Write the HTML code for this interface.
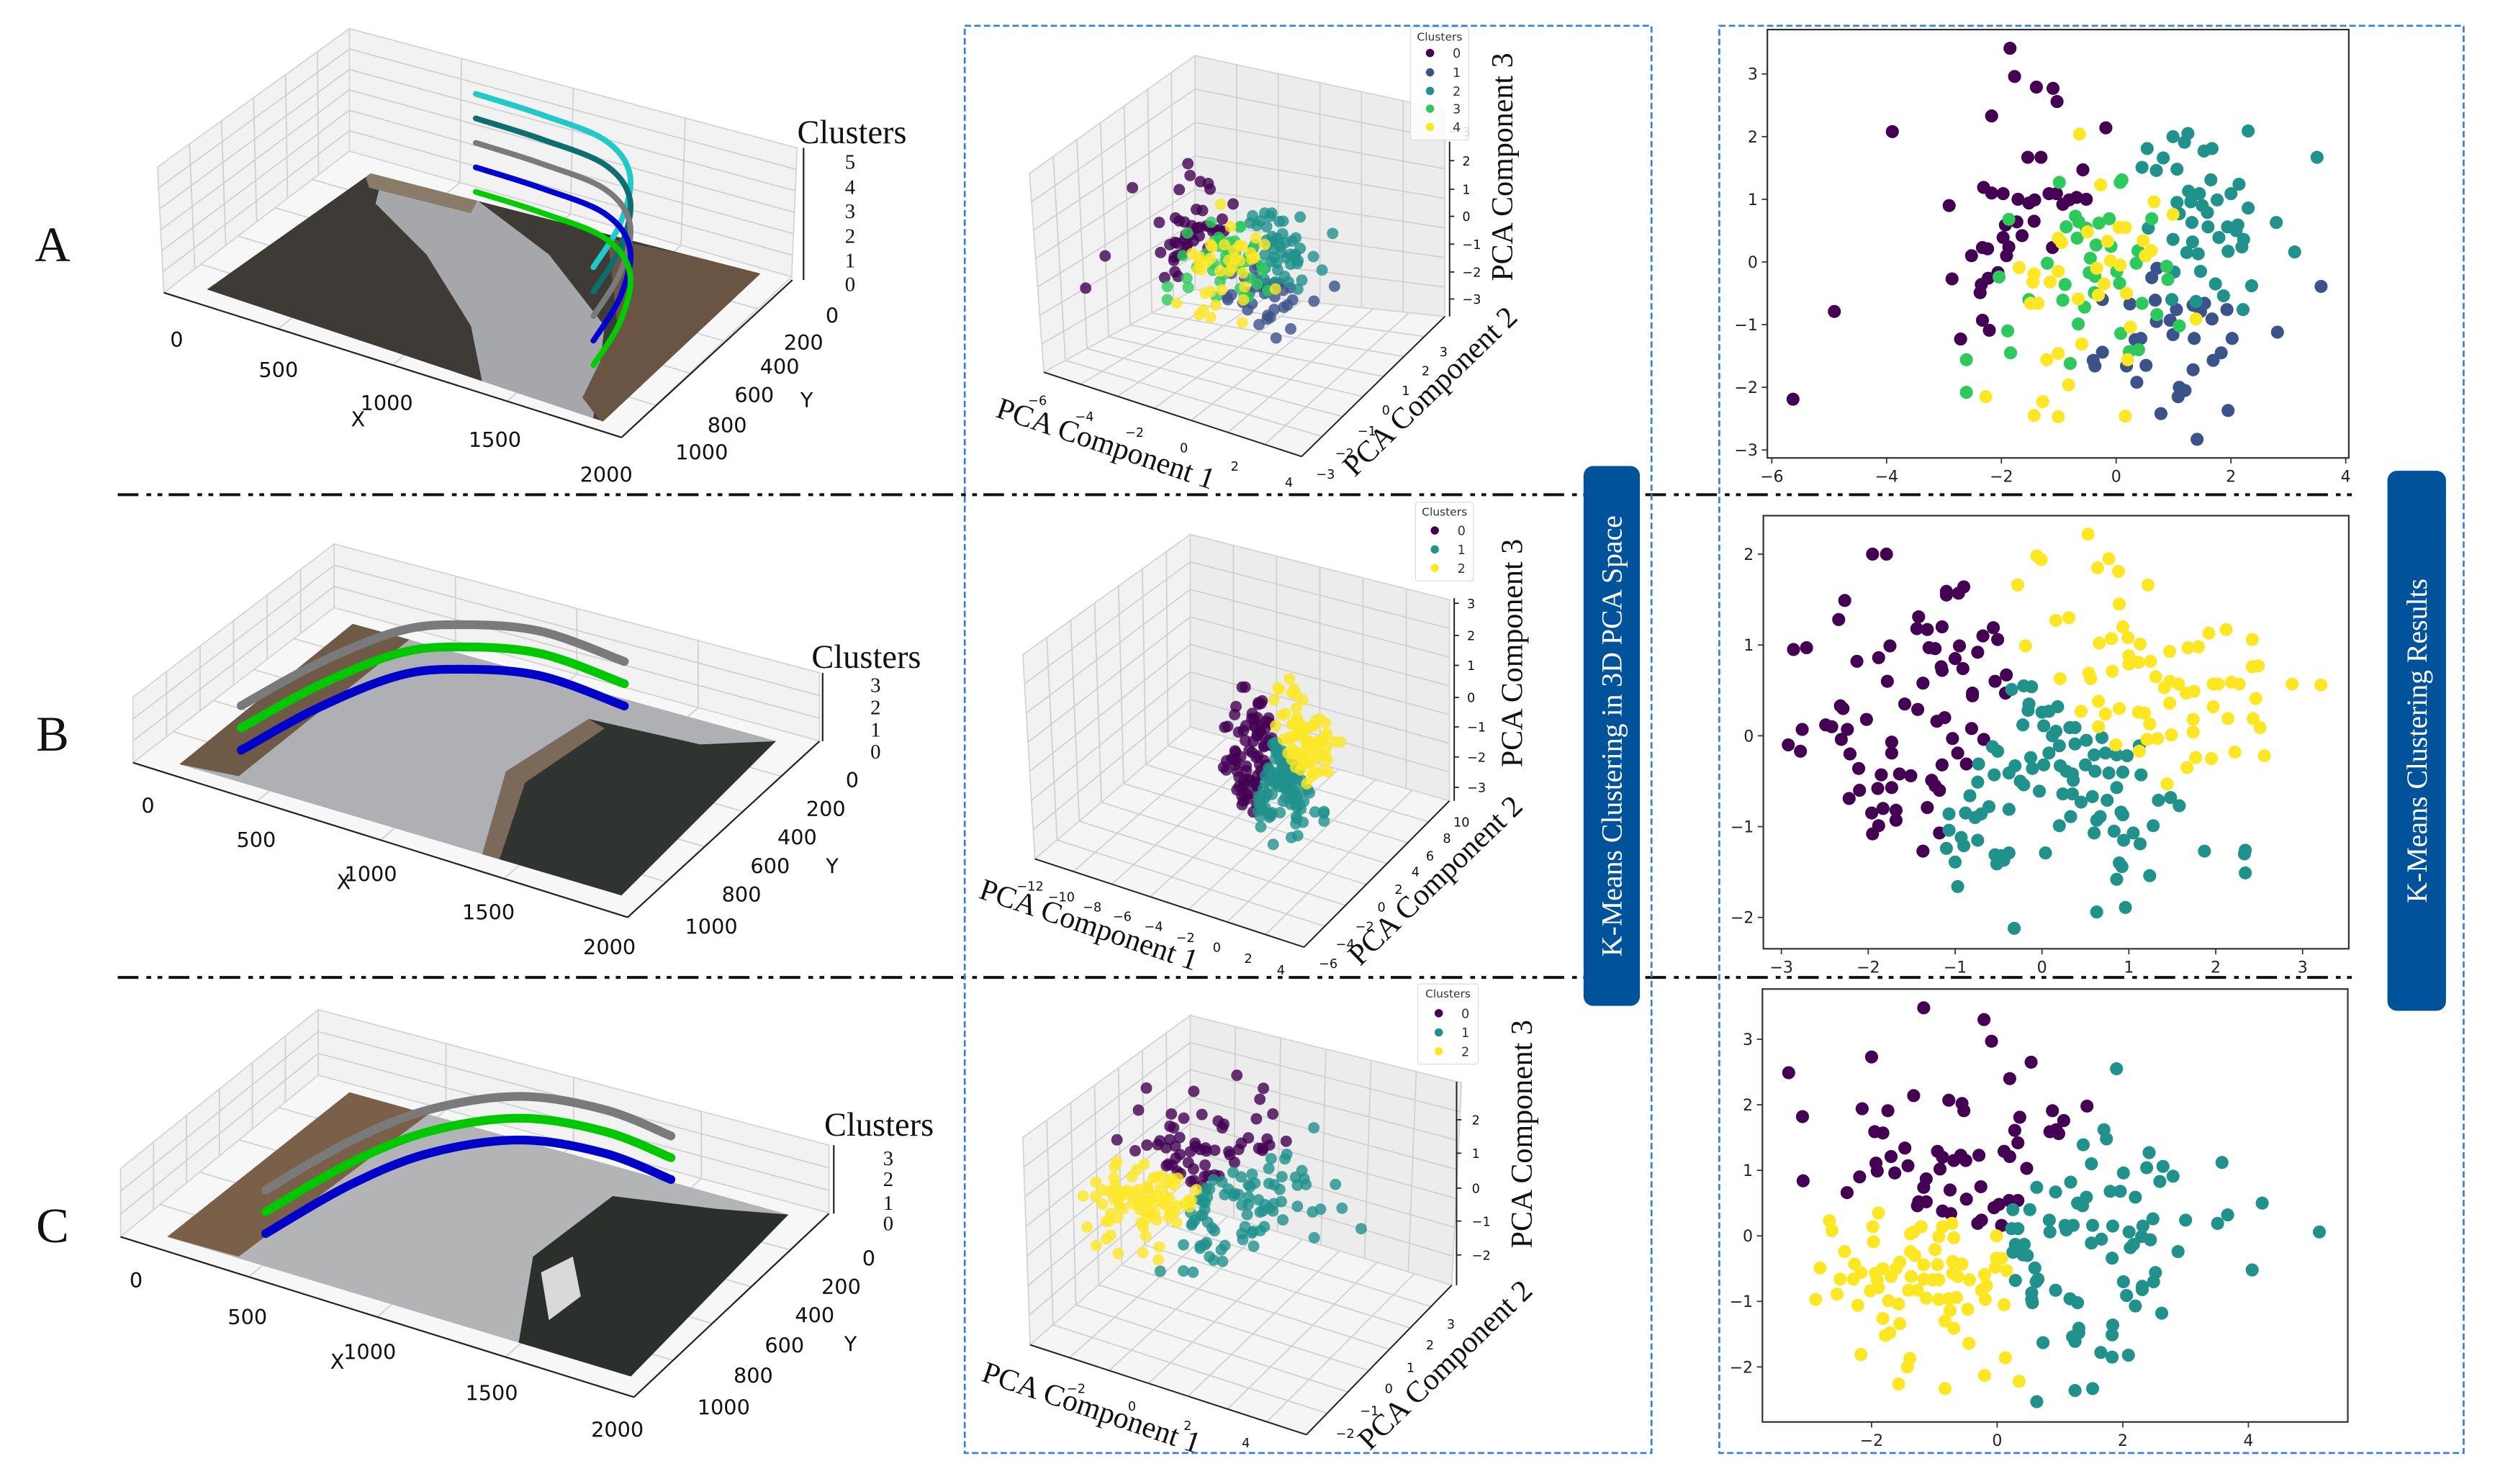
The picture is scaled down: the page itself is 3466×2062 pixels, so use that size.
<!DOCTYPE html>
<html><head><meta charset="utf-8"><title>K-Means Clustering</title>
<style>
html,body{margin:0;padding:0;background:#fff;}
svg{display:block;}
text{font-family:"DejaVu Sans","Liberation Sans",sans-serif;}
.serif{font-family:"Liberation Serif","DejaVu Serif",serif;}
</style></head>
<body>
<svg id="fig" xmlns="http://www.w3.org/2000/svg" width="3466" height="2062" viewBox="0 0 1568 933" preserveAspectRatio="none">
<rect x="0" y="0" width="1568" height="933" fill="#fff"/>
<defs>
<clipPath id="clipA"><polygon points="130,182 233,109 478,172 379,265"/></clipPath>
<clipPath id="clipB"><polygon points="112.7,480.5 221.6,392.2 487.8,465.8 390.6,563"/></clipPath>
<clipPath id="clipC"><polygon points="105,777.6 219.6,686.7 495.6,763.6 396.5,865.4"/></clipPath>
</defs>
<g id="left"></g>
<g id="mid"></g>
<g id="right"></g>
<g id="deco">
<line x1="74" y1="311" x2="1481" y2="311" stroke="#111" stroke-width="1.8" stroke-dasharray="13 5 3 4 3 4"/>
<line x1="74" y1="614.5" x2="1481" y2="614.5" stroke="#111" stroke-width="1.8" stroke-dasharray="13 5 3 4 3 4"/>
<rect x="606.3" y="16.2" width="431.6" height="897.3" fill="none" stroke="#2f7fe0" stroke-width="1.2" stroke-dasharray="4 2"/>
<rect x="1080.5" y="16.2" width="467.8" height="897.3" fill="none" stroke="#2f7fe0" stroke-width="1.2" stroke-dasharray="4 2"/>
<rect x="995.2" y="293" width="35.4" height="339.4" rx="6" fill="#00529b"/>
<text class="serif" x="0" y="0" transform="translate(1019,462.7) rotate(-90)" text-anchor="middle" font-size="18" fill="#fff">K-Means Clustering in 3D PCA Space</text>
<rect x="1500.4" y="296" width="36.8" height="339.5" rx="6" fill="#00529b"/>
<text class="serif" x="0" y="0" transform="translate(1525,465.7) rotate(-90)" text-anchor="middle" font-size="18" fill="#fff">K-Means Clustering Results</text>
</g>
</svg>
<script>
// ---------- DATA: right 2D scatter A (5 clusters) ----------
const aX0=[-1.85,-1.77,-1.39,-1.10,-1.03,-2.17,-3.90,-0.18,-1.54,-1.31,-0.58,-2.31,-2.17,-1.97,-2.91,-1.71,-1.52,-1.42,-1.17,-1.04,-0.93,-0.82,-0.69,-0.52,-1.93,-1.73,-1.43,-1.97,-1.64,-1.87,-1.91,-2.33,-2.24,-2.52,-1.11,-2.86,-2.06,-2.23,-2.35,-2.37,-4.91,-5.63,-2.33,-2.21,-2.71];
const aY0=[3.41,2.96,2.79,2.77,2.56,2.33,2.08,2.14,1.67,1.67,1.47,1.19,1.10,1.09,0.90,1.0,0.94,0.99,1.09,1.09,0.92,0.99,1.03,1.0,0.59,0.64,0.65,0.39,0.42,0.24,0.10,0.23,0.21,0.10,0.23,-0.27,-0.17,-0.26,-0.36,-0.49,-0.79,-2.19,-0.93,-1.09,-1.23];
const aX1=[3.57,0.71,0.62,-0.24,0.24,0.68,1.05,1.93,1.54,1.34,1.47,1.67,0.70,0.94,2.81,0.99,1.36,2.02,0.43,0.33,-0.24,-0.40,-0.37,0.18,0.52,1.34,1.69,1.83,0.36,1.10,1.20,1.08,1.95,0.78,1.41];
const aY1=[-0.39,-0.10,-0.25,-0.60,-0.67,-0.61,-0.76,-0.76,-0.66,-0.69,-0.79,-0.91,-0.95,-0.93,-1.12,-1.16,-1.22,-1.22,-1.22,-1.24,-1.44,-1.57,-1.66,-1.66,-1.65,-1.72,-1.57,-1.45,-1.92,-2.0,-2.05,-2.15,-2.37,-2.42,-2.83];
const aX2=[0.99,1.25,1.19,2.30,0.54,1.53,1.67,0.82,0.45,0.70,1.06,1.65,2.14,3.50,1.26,1.45,2.00,1.76,1.06,1.30,1.50,1.59,2.30,1.10,1.32,2.79,0.56,1.60,1.79,1.94,2.12,2.09,0.99,1.33,2.22,2.19,1.23,1.43,1.95,3.11,1.47,1.73,2.36,1.01,1.87,0.97,1.39,2.21];
const aY2=[2.0,2.05,1.91,2.09,1.81,1.77,1.81,1.66,1.51,1.46,1.48,1.31,1.24,1.67,1.13,1.09,1.09,0.99,0.95,0.96,0.90,0.79,0.86,0.77,0.63,0.63,0.54,0.56,0.39,0.56,0.59,0.50,0.36,0.32,0.36,0.24,0.15,0.13,0.17,0.16,-0.15,-0.35,-0.38,-0.16,-0.54,-0.60,-0.63,-0.76];
const aX3=[-0.99,0.10,0.07,-1.87,-0.71,-0.65,-0.87,-0.52,-0.30,-0.12,-0.68,-0.35,-0.09,0.62,0.38,-1.20,-0.45,0.35,0.88,-0.47,-0.37,0.01,0.06,0.90,-0.89,-2.04,-0.38,-0.93,-1.52,-0.55,0.45,0.71,-0.66,1.10,-1.89,0.08,-1.84,-2.61,-0.80,0.23,0.39,-2.61];
const aY3=[1.27,1.31,1.27,0.68,0.73,0.64,0.56,0.54,0.62,0.69,0.38,0.27,0.25,0.69,0.18,-0.02,0.06,-0.02,-0.07,-0.17,-0.23,-0.15,-0.34,-0.28,-0.36,-0.24,-0.49,-0.61,-0.60,-0.72,-0.66,-0.84,-0.99,-1.02,-1.10,-1.14,-1.45,-1.56,-1.62,-1.43,-1.40,-2.08];
const aX4=[-0.64,-0.27,0.66,0.99,0.05,0.16,-0.50,-1.01,-0.95,-0.15,0.47,0.61,0.51,-1.69,-1.43,-1.45,-1.15,-1.01,-0.34,-0.10,0.07,-0.21,-0.66,-0.31,0.18,-1.49,-1.36,1.39,0.25,-0.60,-1.01,-1.21,0.20,-0.83,-2.27,-1.28,-1.43,-1.01,0.16];
const aY4=[2.04,1.23,0.96,0.76,0.55,0.55,0.48,0.38,0.31,0.33,0.34,0.18,0.10,-0.09,-0.19,-0.32,-0.32,-0.15,-0.10,0.02,-0.05,-0.35,-0.59,-0.53,-0.50,-0.66,-0.66,-0.91,-1.04,-1.31,-1.46,-1.56,-1.56,-1.96,-2.15,-2.23,-2.45,-2.47,-2.46];
// ---------- DATA: right 2D scatter B (3 clusters) ----------
const bX0=[-1.95,-1.79,-2.27,-2.34,-2.86,-2.71,-2.13,-1.88,-1.75,-1.78,-1.42,-1.44,-1.32,-1.15,-1.30,-1.23,-1.10,-1.10,-0.96,-0.90,-0.95,-1.00,-0.91,-0.74,-1.16,-1.15,-1.37,-0.68,-0.56,-0.51,-0.41,-0.54,-0.42,-0.80,-0.80,-2.32,-2.29,-1.58,-1.43,-2.02,-2.49,-2.42,-2.76,-2.24,-1.21,-1.12,-0.81,-2.92,-2.78,-2.31,-1.73,-1.73,-1.03,-0.67,-2.21,-2.11,-0.97,-0.87,-1.15,-1.85,-1.64,-1.51,-1.27,-1.23,-1.18,-2.22,-2.10,-1.89,-1.73,-1.32,-1.83,-1.68,-1.96,-1.68,-1.88,-1.95,-1.18,-1.37];
const bY0=[2.0,2.0,1.49,1.28,0.95,0.97,0.82,0.86,0.99,0.60,1.31,1.18,1.17,1.20,0.97,0.96,1.59,1.55,1.57,1.64,0.99,0.85,0.74,0.92,0.76,0.72,0.58,1.10,1.19,1.06,0.67,0.60,0.47,0.47,0.44,0.33,0.30,0.35,0.29,0.18,0.12,0.10,0.07,0.07,0.16,0.20,0.08,-0.10,-0.17,-0.04,-0.07,-0.19,-0.03,-0.04,-0.20,-0.36,-0.19,-0.31,-0.32,-0.43,-0.42,-0.44,-0.49,-0.55,-0.60,-0.69,-0.60,-0.58,-0.57,-0.79,-0.80,-0.82,-0.85,-0.93,-0.99,-1.08,-1.07,-1.27];
const bX1=[-0.35,-0.21,-0.12,-0.15,-0.16,0.0,0.08,0.18,-0.22,0.02,0.32,0.38,0.16,0.12,0.69,0.51,0.38,0.20,-0.57,-0.51,-0.13,0.08,0.60,0.73,0.86,0.98,1.12,-0.73,-0.31,0.02,-0.11,0.21,0.50,0.28,0.35,-0.38,-0.55,0.61,0.77,0.93,1.14,0.36,-0.25,-0.74,-0.21,0.86,-0.03,0.24,0.35,0.58,0.45,0.75,1.34,1.48,1.58,-0.83,-0.61,-0.38,-0.88,-1.07,-0.70,-0.77,0.91,0.93,0.33,0.67,0.63,0.20,1.28,-1.07,0.60,0.83,1.05,0.94,1.13,-0.93,-0.90,-0.74,-1.10,-0.54,-0.47,-0.38,-0.44,-0.52,0.04,-1.0,1.87,2.34,2.33,2.34,0.89,0.92,1.24,0.86,-0.97,0.63,0.96,-0.32];
const bY1=[0.51,0.55,0.54,0.35,0.28,0.26,0.27,0.32,0.12,0.11,0.09,0.09,0.05,0.0,-0.02,-0.05,-0.09,-0.11,-0.12,-0.17,-0.24,-0.19,-0.21,-0.19,-0.21,-0.22,-0.11,-0.31,-0.33,-0.32,-0.36,-0.33,-0.32,-0.39,-0.42,-0.41,-0.43,-0.39,-0.41,-0.40,-0.43,-0.49,-0.50,-0.51,-0.54,-0.57,-0.61,-0.64,-0.64,-0.67,-0.73,-0.71,-0.71,-0.68,-0.77,-0.66,-0.78,-0.81,-0.85,-0.86,-0.86,-0.90,-0.84,-0.87,-0.89,-0.89,-0.93,-0.99,-0.99,-1.04,-1.07,-1.05,-1.07,-1.15,-1.19,-1.12,-1.21,-1.15,-1.24,-1.31,-1.32,-1.29,-1.37,-1.41,-1.29,-1.39,-1.27,-1.26,-1.30,-1.51,-1.40,-1.44,-1.54,-1.58,-1.66,-1.94,-1.89,-2.12];
const bX2=[0.53,-0.06,-0.01,0.77,0.64,0.88,-0.28,1.22,0.89,0.16,0.31,0.93,0.99,-0.19,0.66,0.80,1.13,1.92,2.12,2.42,1.47,1.68,1.80,1.00,1.00,1.11,1.25,2.42,2.49,0.21,0.54,0.56,0.81,1.31,1.47,1.57,1.41,1.66,1.75,1.97,2.03,2.18,2.27,2.88,3.21,2.46,0.45,0.65,0.73,0.89,1.11,1.18,1.47,1.97,1.24,0.65,1.74,2.14,2.43,2.51,1.74,1.49,0.85,1.21,1.33,1.12,1.77,1.95,2.22,2.56,1.67,1.44];
const bY2=[2.22,1.98,1.94,1.95,1.85,1.81,1.66,1.66,1.45,1.27,1.30,1.20,1.08,0.99,1.02,1.07,1.01,1.13,1.17,1.06,0.93,0.97,0.98,0.88,0.79,0.81,0.82,0.76,0.77,0.63,0.69,0.63,0.71,0.65,0.60,0.57,0.53,0.47,0.49,0.57,0.57,0.59,0.57,0.57,0.56,0.41,0.27,0.38,0.24,0.30,0.26,0.25,0.36,0.32,0.13,0.10,0.18,0.19,0.19,0.09,0.04,0.01,-0.10,-0.04,-0.03,-0.17,-0.24,-0.25,-0.18,-0.22,-0.35,-0.53];
// ---------- DATA: right 2D scatter C (3 clusters) ----------
const cX0=[-1.17,-0.21,-0.09,-2.0,-3.32,0.54,0.20,-1.33,-3.10,-2.15,-1.74,-0.77,-0.56,-0.53,1.43,0.88,0.36,1.06,-1.95,-1.82,0.28,0.84,0.94,0.98,0.33,-1.47,-1.69,-0.95,-0.87,-0.58,-0.69,-0.50,-0.29,0.11,0.20,-1.93,-1.42,-1.91,-1.63,-0.91,0.47,-2.19,-1.13,-3.09,-1.17,-0.75,-0.26,-2.39,-0.49,-1.25,-1.13,-1.27,0.19,0.33,0.03,-0.05,-0.87,-0.74,-0.25,-0.31,0.07];
const cY0=[3.48,3.30,2.97,2.73,2.49,2.65,2.40,2.14,1.82,1.94,1.91,2.07,2.02,1.91,1.98,1.91,1.81,1.76,1.59,1.57,1.61,1.59,1.62,1.56,1.42,1.34,1.21,1.29,1.20,1.23,1.15,1.15,1.23,1.29,1.21,1.11,1.07,0.99,0.96,1.02,1.03,0.90,0.87,0.84,0.74,0.70,0.75,0.66,0.56,0.52,0.52,0.46,0.54,0.54,0.48,0.43,0.38,0.34,0.24,0.19,0.16];
const cX1=[1.90,1.70,1.74,1.37,2.42,3.58,1.50,2.64,2.38,2.01,2.80,2.59,1.17,0.63,0.93,1.80,1.96,2.20,1.42,1.28,1.36,4.22,0.25,0.52,3.67,2.48,3.0,3.51,0.83,0.84,1.08,1.21,1.10,1.52,1.84,2.32,0.23,0.33,2.10,5.13,2.30,2.44,1.66,1.50,0.29,0.43,2.17,2.12,0.25,0.41,0.48,2.88,1.83,0.60,2.52,4.06,0.65,0.62,0.29,2.01,2.49,2.31,2.31,0.93,0.55,0.55,0.56,1.16,1.28,2.06,2.20,2.62,1.84,1.83,1.30,1.30,1.20,1.24,0.73,1.65,1.83,2.09,1.24,1.52,0.63];
const cY1=[2.55,1.62,1.48,1.39,1.27,1.12,1.10,1.06,1.04,0.96,0.91,0.83,0.82,0.74,0.67,0.68,0.68,0.59,0.59,0.50,0.46,0.50,0.40,0.40,0.32,0.26,0.24,0.19,0.24,0.06,0.16,0.16,0.09,0.16,0.15,0.15,0.11,0.11,0.06,0.06,-0.01,-0.06,-0.05,-0.11,-0.13,-0.13,-0.13,-0.18,-0.25,-0.29,-0.30,-0.24,-0.34,-0.49,-0.56,-0.52,-0.66,-0.70,-0.68,-0.70,-0.70,-0.77,-0.82,-0.83,-0.87,-0.97,-1.02,-0.96,-1.02,-0.91,-1.07,-1.18,-1.36,-1.51,-1.41,-1.48,-1.54,-1.61,-1.63,-1.78,-1.85,-1.82,-2.36,-2.33,-2.53];
const cX2=[-1.89,-2.67,-2.63,-1.98,-1.97,-1.21,-1.38,-1.33,-0.87,-0.72,-0.93,-0.69,-0.01,-2.43,-1.38,-1.31,-0.99,-2.82,-2.27,-2.17,-1.94,-1.82,-1.55,-1.61,-1.17,-0.95,-0.71,-0.56,-0.01,0.07,-0.03,0.15,-2.50,-2.29,-1.91,-1.69,-1.37,-1.17,-1.03,-0.93,-0.71,-0.63,-0.44,-0.20,-0.17,-1.89,-2.02,-1.41,-1.27,-0.25,-2.89,-2.55,-2.22,-1.73,-1.57,-1.13,-0.93,-0.77,-0.65,-0.19,0.11,-0.75,-0.47,-1.82,-0.83,-1.55,-0.69,-1.78,-1.71,-0.45,-2.17,0.13,-1.39,-1.43,-0.20,0.35,-1.57,-0.83];
const cY2=[0.35,0.23,0.08,0.14,-0.09,0.14,0.03,0.06,0.14,0.19,-0.01,-0.03,0.0,-0.24,-0.24,-0.30,-0.21,-0.49,-0.43,-0.56,-0.57,-0.50,-0.40,-0.50,-0.44,-0.44,-0.39,-0.43,-0.34,-0.34,-0.48,-0.53,-0.66,-0.66,-0.68,-0.62,-0.62,-0.66,-0.67,-0.67,-0.57,-0.62,-0.67,-0.59,-0.76,-0.79,-0.84,-0.83,-0.83,-0.83,-0.97,-0.89,-1.06,-0.99,-1.04,-0.95,-0.97,-0.96,-0.94,-0.97,-1.05,-1.14,-1.12,-1.26,-1.30,-1.34,-1.41,-1.52,-1.48,-1.64,-1.81,-1.86,-1.87,-2.0,-2.13,-2.22,-2.26,-2.33];
// tick labels
const aXTicks=[-6,-4,-2,0,2,4];
const aYTicks=[-3,-2,-1,0,1,2,3];
const bXTicks=[-3,-2,-1,0,1,2,3];
const bYTicks=[-2,-1,0,1,2];
const cXTicks=[-2,0,2,4];
const cYTicks=[-2,-1,0,1,2,3];
// left 3D cluster tracks (image X, image Y) and cluster levels
const trackAX=[698,1002,1321,1556,1731,1834];
const trackAY=[151,162,200,343,602,871];
const levelsA=[5,4,3,2,1];
const trackBX=[367,434,550,715,985,1358];
const trackBY=[905,603,347,233,160,194];
const levelsB=[3,2,1];
const trackCX=[494,567,687,905,1203,1493];
const trackCY=[904,572,324,150,105,144];
const levelsC=[3,2,1];

const NS='http://www.w3.org/2000/svg';
function mk(tag,attrs,parent){const e=document.createElementNS(NS,tag);for(const k in attrs)e.setAttribute(k,attrs[k]);parent.appendChild(e);return e;}
function fmt(v){return v<0?'\u2212'+Math.abs(v):String(v);}
const V5=['#440154','#3b528b','#21918c','#2ec95c','#fde725'];
const V3=['#440154','#21918c','#fde725'];
const R=document.getElementById('right'), M=document.getElementById('mid'), L=document.getElementById('left');

// ================= RIGHT 2D SCATTERS =================
function panel2D(name,box,ax,xt,yt,xsets,ysets,cols){
  const g=mk('g',{},R);
  
  
  const sx=v=>ax.x0+(v-ax.xo)*ax.kx, sy=v=>ax.y0+(ax.yo-v)*ax.ky;
  const fr=mk('rect',{x:box[0],y:box[1],width:box[2]-box[0],height:box[3]-box[1],fill:'#fff',stroke:'#333','stroke-width':1},g);
  
  
  xt.forEach(v=>{const x=sx(v);
    const t=mk('line',{x1:x,y1:box[3],x2:x,y2:box[3]+3.5,stroke:'#333','stroke-width':0.8},g);
    
    
    const l=mk('text',{x:x,y:box[3]+15,'text-anchor':'middle','font-size':10,fill:'#222'},g);l.textContent=fmt(v);
    
    });
  yt.forEach(v=>{const y=sy(v);
    const t=mk('line',{x1:box[0]-3.5,y1:y,x2:box[0],y2:y,stroke:'#333','stroke-width':0.8},g);
    
    
    const l=mk('text',{x:box[0]-6,y:y+3.6,'text-anchor':'end','font-size':10,fill:'#222'},g);l.textContent=fmt(v);
    
    });
  xsets.forEach((xs,ci)=>{const ys=ysets[ci];const n=Math.min(xs.length,ys.length);
    for(let i=0;i<n;i++){const c=mk('circle',{cx:sx(xs[i]),cy:sy(ys[i]),r:4.1,fill:cols[ci]},g);
      
      }});
}
panel2D('scatter-a',[1110.7,18.6,1476.1,287.9],{x0:1113.5,kx:36.07,xo:-6,y0:46.5,ky:39.4,yo:3},aXTicks,aYTicks,[aX0,aX1,aX2,aX3,aX4],[aY0,aY1,aY2,aY3,aY4],V5);
panel2D('scatter-b',[1108.2,324.2,1476.1,596.5],{x0:1119.5,kx:54.6,xo:-3,y0:348.4,ky:57.1,yo:2},bXTicks,bYTicks,[bX0,bX1,bX2],[bY0,bY1,bY2],V3);
panel2D('scatter-c',[1107.6,621.8,1475.5,894],{x0:1176.2,kx:39.47,xo:-2,y0:653.4,ky:41.2,yo:3},cXTicks,cYTicks,[cX0,cX1,cX2],[cY0,cY1,cY2],V3);

// ================= GEOMETRY HELPERS =================
function lerp(a,b,t){return [a[0]+(b[0]-a[0])*t,a[1]+(b[1]-a[1])*t];}
function pane(g,p1,p2,p3,p4,nA,nB,fill,name){
  const pg=mk('polygon',{points:[p1,p2,p3,p4].map(p=>p.join(',')).join(' '),fill:fill,stroke:'#d4d4d4','stroke-width':0.8},g);
  
  
  for(let i=1;i<nA;i++){const t=i/nA;const a=lerp(p1,p2,t),b=lerp(p4,p3,t);
    const ln=mk('line',{x1:a[0],y1:a[1],x2:b[0],y2:b[1],stroke:'#d0d0d0','stroke-width':0.8},g);
    
    }
  for(let i=1;i<nB;i++){const t=i/nB;const a=lerp(p1,p4,t),b=lerp(p2,p3,t);
    const ln=mk('line',{x1:a[0],y1:a[1],x2:b[0],y2:b[1],stroke:'#d0d0d0','stroke-width':0.8},g);
    
    }
}
function txt(g,x,y,s,size,opts,name){
  const t=mk('text',Object.assign({x:x,y:y,'font-size':size,fill:'#111'},opts||{}),g);t.textContent=s;
  
  
  return t;
}
function line(g,a,b,w,name){const l=mk('line',{x1:a[0],y1:a[1],x2:b[0],y2:b[1],stroke:'#222','stroke-width':w},g);
  
  }
function smooth(pts){let d='M'+pts[0][0]+','+pts[0][1];
  for(let i=0;i<pts.length-1;i++){const p0=pts[i-1]||pts[i],p1=pts[i],p2=pts[i+1],p3=pts[i+2]||p2;
    const c1=[p1[0]+(p2[0]-p0[0])/6,p1[1]+(p2[1]-p0[1])/6],c2=[p2[0]-(p3[0]-p1[0])/6,p2[1]-(p3[1]-p1[1])/6];
    d+=' C'+c1.join(',')+' '+c2.join(',')+' '+p2.join(',');}
  return d;}

// ================= LEFT 3D PANELS (image + clusters) =================
function leftPanel(cfg){
  const g=mk('g',{},L);
  
  
  pane(g,cfg.TL,cfg.TB,cfg.BB,cfg.BL,6,cfg.zn,'#f2f2f2','left-wall');
  pane(g,cfg.TB,cfg.TR,cfg.BR,cfg.BB,4,cfg.zn,'#f2f2f2','back-wall');
  pane(g,cfg.BL,cfg.BB,cfg.BR,cfg.FR,5,4,'#f7f7f7','floor');
  const ph=mk('g',{'clip-path':'url(#'+cfg.clip+')'},g);
  
  
  cfg.photo.forEach(s=>{const p=mk('polygon',{points:s[0],fill:s[1]},ph);
    
    });
  line(g,cfg.BL,cfg.FR,1,'x-axis');
  line(g,cfg.FR,cfg.yEnd,1,'y-axis');
  line(g,cfg.zTop,cfg.zBot,1,'z-axis');
  const P=(X,Y,z)=>[cfg.O[0]+X*cfg.u[0]+Y*cfg.v[0], cfg.O[1]+X*cfg.u[1]+Y*cfg.v[1]-z*cfg.zu];
  cfg.levels.forEach((z,k)=>{
    const pts=cfg.tx.map((X,i)=>P(X,cfg.ty[i],z));
    const b=mk('path',{d:smooth(pts),fill:'none',stroke:cfg.cols[k],'stroke-width':cfg.bw,'stroke-linecap':'round','stroke-dasharray':'1.5 0.6'},g);
    
    
  });
  txt(g,cfg.lab[0],cfg.lab[1],cfg.letter,31,{class:'serif','text-anchor':'middle'},'panel-label');
  txt(g,cfg.cl[0],cfg.cl[1],'Clusters',21,{class:'serif'},'z-axis-title');
  cfg.zt.forEach((y,i)=>txt(g,cfg.ztx,y+5,String(i),13,{class:'serif'},'z-tick-label'));
  ['0','500','1000','1500','2000'].forEach((s,i)=>txt(g,cfg.xt[i][0],cfg.xt[i][1]+5,s,13,{'text-anchor':'middle'},'x-tick-label'));
  ['0','200','400','600','800','1000'].forEach((s,i)=>txt(g,cfg.yt[i][0],cfg.yt[i][1]+5,s,13,{'text-anchor':'middle'},'y-tick-label'));
  txt(g,cfg.xl[0],cfg.xl[1]+5,'X',13,{'text-anchor':'middle'},'x-axis-title');
  txt(g,cfg.yl[0],cfg.yl[1]+5,'Y',13,{'text-anchor':'middle'},'y-axis-title');
}
leftPanel({name:'panel-a-3d-image',clip:'clipA',letter:'A',lab:[33,164],
  TL:[99,105],TB:[219.6,18],BB:[219.6,95],BL:[103,184],TR:[501,93],BR:[497.5,174],FR:[390.6,275],zn:6,
  yEnd:[498,176],zTop:[505,93],zBot:[505,176],
  photo:[['130,182 233,109 478,172 379,265','#3e3b37'],['240,112 300,126 345,160 380,205 372,270 305,250 296,205 268,160 236,128','#a6a7aa'],['228,106 300,126 296,134 232,118','#8a7a68'],['382,150 480,170 380,268 366,250 388,205','#6a5444']],
  O:[219.6,95],u:[0.139,0.0395],v:[-0.1166,0.089],zu:15.4,tx:trackAX,ty:trackAY,levels:levelsA,
  cols:['#22c9c9','#0e6e6e','#7a7a7a','#0000d0','#00cc00'],bw:3.6,
  cl:[501,90],ztx:531,zt:[178,163,147.6,132,117,101],
  xt:[[111,213],[175,232],[243,253],[311,276],[381,298]],
  yt:[[523,198],[505,215],[490,230],[474,248],[457,267],[441,284]],xl:[225,263],yl:[507,251]});
leftPanel({name:'panel-b-3d-image',clip:'clipB',letter:'B',lab:[33,472],
  TL:[83.6,438.3],TB:[210,342],BB:[210,382],BL:[83.6,479.5],TR:[515,423],BR:[515,465.8],FR:[394.5,576.7],zn:3,
  yEnd:[515,466],zTop:[517,423],zBot:[517,466],
  photo:[['112.7,480.5 221.6,392.2 487.8,465.8 390.6,563','#aeb0b3'],['112.7,480.5 221.6,392.2 260,400 150,488','#6f5a47'],['300,548 318,485 370,452 440,468 488,466 390.6,563','#2f3431'],['318,485 370,452 380,458 330,492 310,552 300,548','#7b6a5a']],
  O:[210,382],u:[0.1525,0.042],v:[-0.1264,0.0975],zu:14,tx:trackBX,ty:trackBY,levels:levelsB,
  cols:['#7a7a7a','#00c800','#0000c8'],bw:5.5,
  cl:[510,420],ztx:547,zt:[472,458,444,430],
  xt:[[93,506],[161,527.6],[233,549],[307,573],[383,595]],
  yt:[[535.6,490],[519,508],[501,526],[484,544],[466,562],[447,582]],xl:[216,554],yl:[523,544]});
leftPanel({name:'panel-c-3d-image',clip:'clipC',letter:'C',lab:[33,781],
  TL:[75.8,734.6],TB:[200,634.8],BB:[200,676],BL:[75.8,777.6],TR:[521,720],BR:[521,762.6],FR:[398.4,878.4],zn:3,
  yEnd:[521,763],zTop:[524,720],zBot:[524,763],
  photo:[['105,777.6 219.6,686.7 495.6,763.6 396.5,865.4','#b3b4b6'],['105,777.6 219.6,686.7 270,700 150,790','#7a6048'],['325,850 335,790 385,752 450,760 495.6,763.6 396.5,865.4','#2c302d'],['340,800 360,790 365,815 345,830','#d9d9d9']],
  O:[200,676],u:[0.16045,0.0433],v:[-0.1242,0.1016],zu:13.7,tx:trackCX,ty:trackCY,levels:levelsC,
  cols:['#7a7a7a','#00c800','#0000c8'],bw:5.5,
  cl:[518,714],ztx:555,zt:[768.6,755.6,740.6,727.6],
  xt:[[85.5,804.5],[155.5,827.5],[232.4,849.5],[309,875.4],[388,898.4]],
  yt:[[546,790.6],[528.6,808.5],[512,826.5],[493,845.5],[473.4,864.5],[454.8,884.4]],xl:[212,855.5],yl:[534.5,844.5]});

// ================= MIDDLE 3D PCA PANELS =================
function midPanel(cfg){
  const g=mk('g',{},M);
  
  
  pane(g,cfg.TL,cfg.TB,cfg.BB,cfg.BL,7,7,'#f2f2f2','left-pane');
  pane(g,cfg.TB,cfg.TR,cfg.BR,cfg.BB,6,7,'#ececec','right-pane');
  pane(g,cfg.BL,cfg.BB,cfg.BR,cfg.FR,7,7,'#f5f5f5','floor-pane');
  line(g,cfg.BL,cfg.FR,0.9,'pca1-axis');
  line(g,cfg.FR,cfg.BR,0.9,'pca2-axis');
  line(g,[cfg.BR[0]+3,cfg.zTop],[cfg.BR[0]+3,cfg.BR[1]],0.9,'pca3-axis');
  cfg.xs.forEach((xs,ci)=>{const ys=cfg.ys[ci];const n=Math.min(xs.length,ys.length);
    for(let i=0;i<n;i++){const p=cfg.proj(xs[i],ys[i]);
      const c=mk('circle',{cx:p[0],cy:p[1],r:3.6,fill:cfg.cols[ci],'fill-opacity':0.8},g);
      
      }});
  cfg.zt.forEach(t=>{txt(g,cfg.ztx,t[1]+3,fmt(t[0]),8,{},'pca3-tick-label');
    line(g,[cfg.BR[0]+3,t[1]],[cfg.BR[0]+6,t[1]],0.8,'pca3-tick');});
  cfg.t1.forEach(t=>txt(g,t[1],t[2]+3,fmt(t[0]),8,{'text-anchor':'middle'},'pca1-tick-label'));
  cfg.t2.forEach(t=>txt(g,t[1],t[2]+3,fmt(t[0]),8,{'text-anchor':'middle'},'pca2-tick-label'));
  txt(g,0,0,'PCA Component 1',19,{class:'serif','text-anchor':'middle',transform:'translate('+cfg.l1[0]+','+(cfg.l1[1]+6)+') rotate(18.7)'},'pca1-axis-title');
  txt(g,0,0,'PCA Component 2',19,{class:'serif','text-anchor':'middle',transform:'translate('+cfg.l2[0]+','+cfg.l2[1]+') rotate(-44)'},'pca2-axis-title');
  txt(g,0,0,'PCA Component 3',19,{class:'serif','text-anchor':'middle',transform:'translate('+(cfg.l3[0]+6)+','+cfg.l3[1]+') rotate(-90)'},'pca3-axis-title');
  const lg=mk('g',{},g);
  
  
  const lb=cfg.leg;
  const r=mk('rect',{x:lb[0],y:lb[1],width:lb[2]-lb[0],height:lb[3]-lb[1],rx:1.5,fill:'#fff','fill-opacity':0.85,stroke:'#ddd','stroke-width':0.6},lg);
  
  
  txt(lg,(lb[0]+lb[2])/2,lb[1]+8.5,'Clusters',7,{'text-anchor':'middle',fill:'#333'},'legend-title');
  cfg.legY.forEach((y,i)=>{const d=mk('circle',{cx:cfg.legDot,cy:y,r:2.6,fill:cfg.cols[i]},lg);
    
    
    txt(lg,cfg.legLab,y+3,String(i),8,{'text-anchor':'middle',fill:'#333'},'legend-entry-label');});
}
midPanel({name:'pca-3d-a',TL:[647,109],TB:[751,35],BB:[751,182],BL:[656,234],TR:[908,69],BR:[908,199],FR:[818,287],zTop:89,
  xs:[aX0,aX1,aX2,aX3,aX4],ys:[aY0,aY1,aY2,aY3,aY4],cols:V5,proj:(x,y)=>[778+x*17,163-y*16+x*3],
  ztx:919,zt:[[3,82.8],[2,101],[1,119],[0,136],[-1,153.5],[-2,171],[-3,188]],
  t1:[[-6,652,251.5],[-4,681.5,261.6],[-2,713,271.7],[0,744,281.4],[2,776,293],[4,810,303]],
  t2:[[-3,833,298],[-2,845,284.8],[-1,859,270.7],[0,871,257.6],[1,883.5,245.4],[2,896,233],[3,907.2,221]],
  l1:[693,278.8],l2:[903,250.5],l3:[944.4,105],
  leg:[886.5,17,923,88],legY:[33.3,45.5,57.2,68.3,79.8],legDot:898.7,legLab:915.5});
midPanel({name:'pca-3d-b',TL:[642.8,411.6],TB:[748,336],BB:[748,457],BL:[650.4,540],TR:[910.9,377],BR:[910.9,503.5],FR:[819.5,595.5],zTop:376,
  xs:[bX0,bX1,bX2],ys:[bY0,bY1,bY2],cols:V3,proj:(x,y)=>[804+x*12,480-y*24],
  ztx:922,zt:[[3,379.3],[2,399.5],[1,418.3],[0,438.5],[-1,457],[-2,475.9],[-3,495]],
  t1:[[-12,647.4,557],[-10,667,563.7],[-8,686.4,570],[-6,705.3,576],[-4,725,582.3],[-2,745,589.4],[0,764.7,595.5],[2,784.5,602.5],[4,805,609.6]],
  t2:[[-6,834.7,605.6],[-4,845.4,593.4],[-2,857.6,582.3],[0,868.2,570],[2,879,559],[4,889.6,548],[6,898.7,537.9],[8,909.3,526.8],[10,918.5,516.7]],
  l1:[682.4,581.3],l2:[906.3,558],l3:[950.5,410.6],
  leg:[889.6,315.7,926,365.2],legY:[333.5,345.4,357.1],legDot:901.7,legLab:918.5});
midPanel({name:'pca-3d-c',TL:[642.8,715.2],TB:[748,638.4],BB:[748,757.6],BL:[647.4,845.5],TR:[918.5,680.8],BR:[912.4,808],FR:[821,902],zTop:680,
  xs:[cX0,cX1,cX2],ys:[cY0,cY1,cY2],cols:V3,proj:(x,y)=>[752+x*20+y*14,748-y*19+x*5],
  ztx:925,zt:[[2,704],[1,725],[0,747],[-1,767.7],[-2,789]],
  t1:[[-2,676.3,872.7],[0,711.4,883.9],[2,746.4,896],[4,783,907]],
  t2:[[-2,845.4,901],[-1,860.6,886.9],[0,872.8,872.7],[1,886.5,859.6],[2,898.7,845.5],[3,911.8,832.3]],
  l1:[684,884.9],l2:[912.4,862.6],l3:[956.6,713],
  leg:[891,618.6,929,669],legY:[637,649.1,661],legDot:904.2,legLab:920.9});
document.getElementById('fig').appendChild(document.getElementById('deco'));
</script>
</body></html>
